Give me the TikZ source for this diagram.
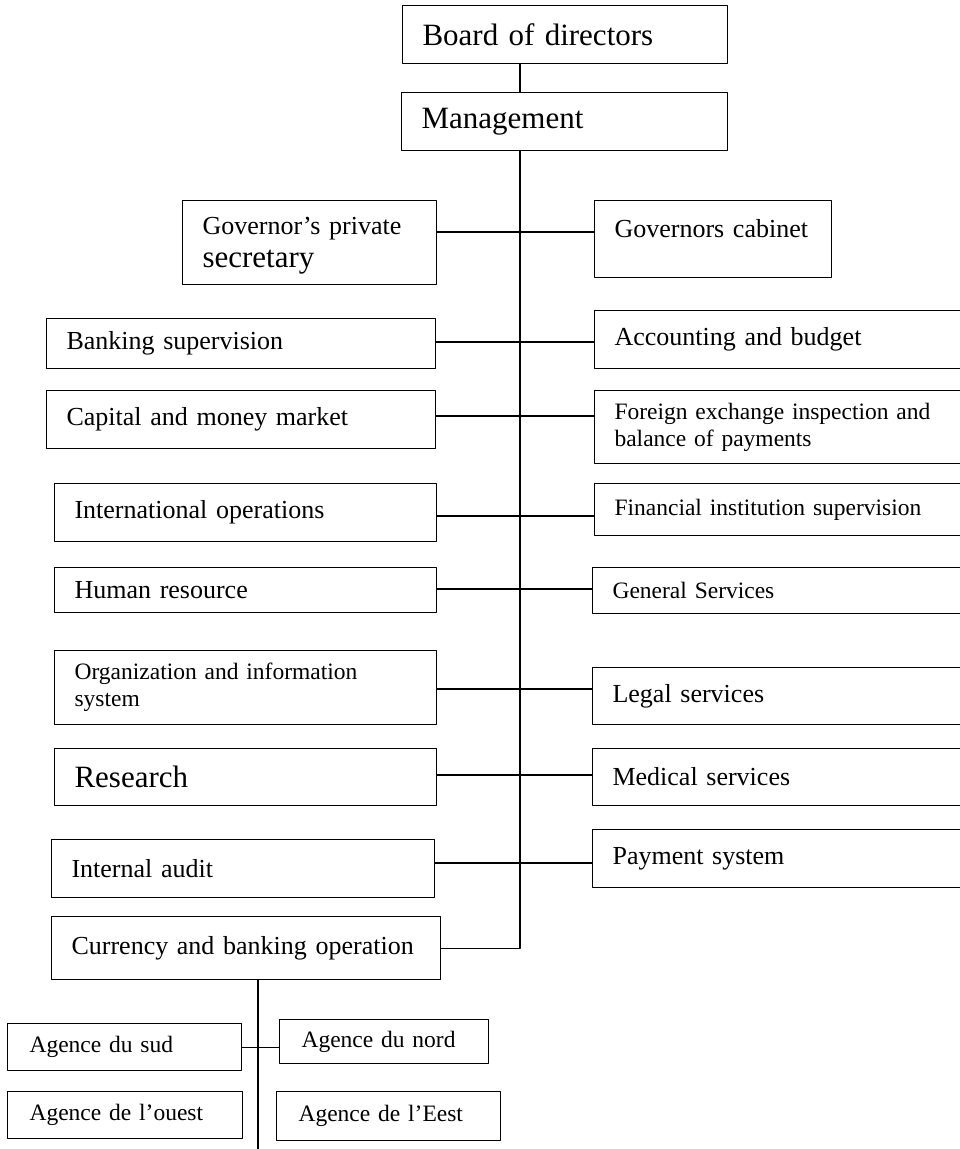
\documentclass[tikz,border=0pt]{standalone}
\usepackage{fontspec}
\setmainfont{Liberation Serif}
\newcommand\chartbig{\fontsize{31}{36}\selectfont}
\newcommand\chartmid{\fontsize{26}{33}\selectfont}
\newcommand\chartsmall{\fontsize{23.5}{27}\selectfont}

\begin{document}
\begin{tikzpicture}[
    x=1pt,
    y=-1pt,
    line cap=round,
    line join=round,
    box/.style={
        draw,
        line width=1.1pt,
        anchor=north west,
        align=left,
        inner xsep=20pt,
        inner ysep=0pt,
        font=\chartmid
    },
    agency/.style={box,inner xsep=22pt,font=\chartsmall},
    link/.style={line width=1.1pt}
]
\useasboundingbox (0,0) rectangle (960,1149);

% top of the chart
\node[box,font=\chartbig,text width=285pt,minimum height=58pt] (board) at (402,5) {Board of directors};
\node[box,font=\chartbig,text width=286pt,minimum height=58pt] (mgmt) at (401,92) {Management};

% departments, left and right of the trunk
\node[box,text width=214pt,minimum height=84pt,text height=24pt] (govsec) at (182,200) {Governor’s private\\{\chartbig secretary}};
\node[box,text width=197pt,minimum height=77pt,text depth=22pt] (govcab) at (594,200) {Governors cabinet};
\node[box,text width=349pt,minimum height=50pt] (banksup) at (46,318) {Banking supervision};
\node[box,text width=330pt,minimum height=58pt] (account) at (594,310) {Accounting and budget};
\node[box,text width=349pt,minimum height=58pt] (capital) at (46,390) {Capital and money market};
\node[box,font=\chartsmall,text width=330pt,minimum height=73pt] (forex) at (594,390) {Foreign exchange inspection and\\balance of payments};
\node[box,text width=342pt,minimum height=58pt] (intl) at (54,483) {International operations};
\node[box,font=\chartsmall,text width=330pt,minimum height=52pt] (finsup) at (594,483) {Financial institution supervision};
\node[box,text width=342pt,minimum height=45pt] (human) at (54,567) {Human resource};
\node[box,font=\chartsmall,text width=332pt,minimum height=46pt] (general) at (592,567) {General Services};
\node[box,font=\chartsmall,text width=342pt,minimum height=74pt] (orga) at (54,650) {Organization and information\\system};
\node[box,text width=332pt,minimum height=57pt] (legal) at (592,667) {Legal services};
\node[box,font=\chartbig,text width=342pt,minimum height=57pt] (research) at (54,748) {Research};
\node[box,text width=332pt,minimum height=57pt] (medical) at (592,748) {Medical services};
\node[box,text width=343pt,minimum height=58pt] (audit) at (51,839) {Internal audit};
\node[box,text width=332pt,minimum height=58pt] (payment) at (592,829) {Payment system};
\node[box,text width=349pt,minimum height=63pt] (currency) at (51,916) {Currency and banking operation};

% agencies
\node[agency,text width=190pt,minimum height=47pt] (sud) at (7,1023) {Agence du sud};
\node[agency,text width=165pt,minimum height=44pt] (nord) at (279,1019) {Agence du nord};
\node[agency,text width=191pt,minimum height=47pt] (ouest) at (7,1091) {Agence de l’ouest};
\node[agency,text width=180pt,minimum height=49pt] (est) at (276,1091) {Agence de l’Eest};

% connectors
\coordinate (trunk) at (520,150);
\coordinate (agend) at (258,1149);
\draw[link] (board.south -| trunk) -- (mgmt.north -| trunk);
\draw[link] (mgmt.south -| trunk) |- (currency.east);
\foreach \l/\r/\y in {govsec/govcab/232,banksup/account/342,capital/forex/416,intl/finsup/516,human/general/589,orga/legal/689,research/medical/775,audit/payment/863}
    \draw[link] (\l.east |- 0,\y) -- (\r.west |- 0,\y);
\draw[link] (currency.south -| agend) -- (agend);
\draw[link] (sud.east) -- (sud.east -| nord.west);

\end{tikzpicture}
\end{document}
